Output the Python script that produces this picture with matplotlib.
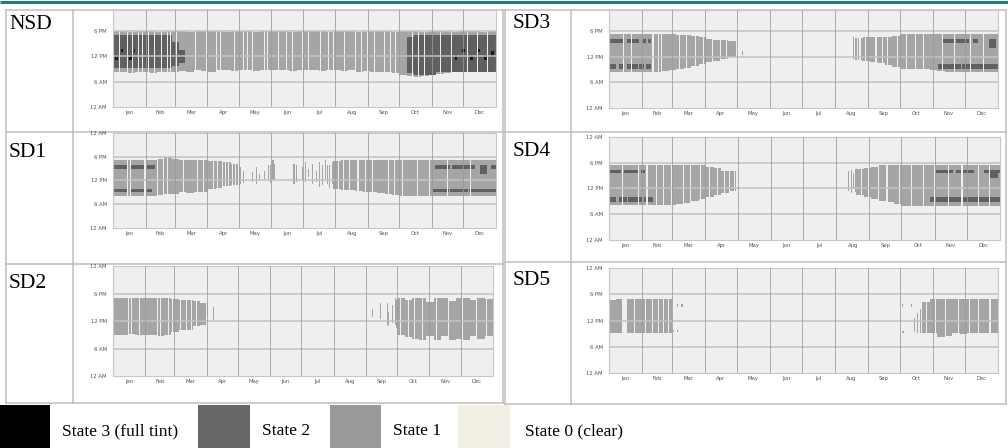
import numpy as np
import matplotlib
matplotlib.use('Agg')
import matplotlib.pyplot as plt
from matplotlib.colors import ListedColormap, BoundaryNorm
from matplotlib.patches import Rectangle

nan = np.nan

# ---------------- data ----------------
MONTHS = ['Jan', 'Feb', 'Mar', 'Apr', 'May', 'Jun', 'Jul', 'Aug', 'Sep', 'Oct', 'Nov', 'Dec']
MONTH_DAYS = [31, 28, 31, 30, 31, 30, 31, 31, 30, 31, 30, 31]
HOUR_TICKS = [0, 6, 12, 18, 24]
HOUR_LABELS = ['12 AM', '6 AM', '12 PM', '6 PM', '12 AM']
PANELS = ['NSD', 'SD1', 'SD2', 'SD3', 'SD4', 'SD5']
STATE_LABELS = ['State 3 (full tint)', 'State 2', 'State 1', 'State 0 (clear)']

# weekly envelope of tinted period (hour of day), NaN = no tint that week
NSD_LO = [8.3, 8.3, 8.2, 8.3, 8.3, 8.2, 8.3, 8.3, 8.4, 8.5, 8.4, 8.6, 8.5, 8.4, 8.6, 8.7, 8.5,
          8.6, 8.8, 8.5, 8.6, 8.7, 8.8, 8.6, 8.5, 8.7, 8.8, 8.6, 8.5, 8.7, 8.6, 8.5, 8.6, 8.4,
          8.5, 8.4, 8.3, 8.3, 8.2, 7.6, 7.3, 7.2, 7.4, 7.5, 7.8, 8.2, 8.3, 8.3, 8.3, 8.3, 8.3, 8.3]
NSD_HI = [18.0, 18.0, 17.9, 18.0, 18.0, 18.0, 17.9, 18.0, 18.0, 18.0, 17.9, 18.0, 18.0, 18.0,
          18.0, 17.9, 18.0, 18.0, 18.0, 17.9, 18.0, 18.0, 18.0, 18.0, 17.9, 18.0, 18.0, 18.0,
          18.0, 17.9, 18.0, 18.0, 18.0, 17.9, 18.0, 18.0, 18.0, 18.0, 17.9, 18.0, 18.0, 18.0,
          17.9, 18.0, 18.0, 18.0, 17.9, 18.0, 18.0, 18.0, 17.9, 18.0]
NSD_OFF = [6, 13, 18, 24, 28, 33, 39, 46, 51, 54, 60, 78, 89, 98, 102, 115, 124, 128, 132, 144,
           147, 157, 165, 171, 180, 186, 197, 205, 210, 220, 231, 236, 242, 249, 258, 264, 269,
           285, 291, 296, 312, 322, 337, 347, 356]
NSD_ST_DAY, NSD_ST_LO, NSD_ST_HI = [], [], []
NSD_S2 = [(0, 55, 9.2, 17.2), (56, 62, 9.8, 15.5), (63, 68, 10.5, 13.5),
          (280, 286, 8.0, 16.5), (287, 307, 7.5, 17.0), (308, 364, 8.3, 17.1)]
NSD_S3 = [(2, 4, 11.2, 12.3), (8, 9, 13.0, 13.7), (15, 17, 11.2, 12.3), (20, 20, 13.0, 13.7),
          (326, 327, 11.2, 12.3), (333, 334, 13.0, 13.7), (340, 342, 11.2, 12.3),
          (348, 349, 13.0, 13.7), (354, 355, 11.2, 12.3), (360, 362, 11.8, 13.4)]

SD1_LO = [8.0, 8.0, 8.1, 8.0, 8.1, 8.2, 8.3, 8.5, 8.6, 9.0, 8.9, 9.0, 9.2, 9.8, 10.2, 10.5, 10.8,
          nan, nan, nan, nan, nan, nan, nan, nan, nan, nan, nan, nan, nan,
          9.8, 9.6, 9.5, 9.4, 9.2, 9.0, 8.8, 8.6, 8.4, 8.2, 8.0, 8.0, 8.0, 8.0, 8.0, 8.0, 8.0,
          8.0, 8.0, 8.0, 8.0, 8.0]
SD1_HI = [17.1, 17.1, 17.1, 17.1, 17.1, 17.1, 17.4, 17.9, 17.4, 17.1, 17.1, 17.1, 17.1, 17.0,
          16.8, 16.6, 16.2,
          nan, nan, nan, nan, nan, nan, nan, nan, nan, nan, nan, nan, nan,
          16.8, 17.1, 17.1, 17.1, 17.1, 17.1, 17.1, 17.1, 17.1, 17.1, 17.1, 17.1, 17.1, 17.1,
          17.1, 17.1, 17.1, 17.1, 17.1, 17.1, 17.1, 17.1]
SD1_OFF = [13, 16, 30, 42, 48, 51, 67, 80, 86, 95, 99, 104, 107, 110, 113, 116, 214, 219, 225,
           233, 240, 247, 262, 268, 275, 290, 301, 318, 340]
SD1_ST_DAY = [120, 121, 124, 132, 136, 139, 144, 148, 150, 152, 153, 172, 174, 180, 183, 186,
              190, 193, 196, 199, 202, 204, 206, 209]
SD1_ST_LO = [10.5, 11.0, 11.4, 11.6, 11.2, 12.0, 12.0, 12.0, 11.3, 12.0, 12.3, 11.2, 11.6,
             12.0, 11.6, 12.8, 11.2, 11.6, 10.3, 10.8, 12.0, 11.0, 10.0, 11.0]
SD1_ST_HI = [15.8, 15.5, 14.5, 14.1, 15.4, 13.7, 14.5, 15.8, 16.0, 17.1, 16.2, 16.2, 15.8,
             15.4, 16.6, 15.0, 16.2, 14.5, 16.6, 15.8, 17.1, 16.0, 15.8, 16.6]
SD1_S2 = [(0, 12, 15.0, 15.8), (16, 29, 15.0, 15.8), (32, 39, 15.0, 15.8), (307, 320, 15.0, 15.8),
          (323, 344, 15.0, 15.8), (350, 354, 15.0, 15.8), (360, 364, 15.0, 15.8),
          (0, 12, 9.1, 9.9), (16, 36, 9.1, 9.9), (305, 319, 9.1, 9.9), (321, 337, 9.1, 9.9),
          (339, 364, 9.1, 9.9), (350, 355, 13.6, 15.8)]
SD1_S3 = []

SD2_LO = [9.0, 9.0, 9.1, 9.0, 9.0, 9.0, 8.6, 9.0, 9.5, 10.0, 10.0, 11.0, 11.2,
          nan, nan, nan, nan, nan, nan, nan, nan, nan, nan, nan, nan, nan, nan, nan, nan, nan,
          nan, nan, nan, nan, nan, nan, nan, nan, nan,
          9.0, 8.5, 8.0, 7.8, 8.6, 7.8, 8.9, 7.8, 8.2, 7.9, 8.8, 8.0, 8.9]
SD2_HI = [17.0, 17.0, 17.0, 17.0, 17.0, 17.0, 17.0, 17.0, 16.8, 16.6, 16.5, 16.3, 16.0,
          nan, nan, nan, nan, nan, nan, nan, nan, nan, nan, nan, nan, nan, nan, nan, nan, nan,
          nan, nan, nan, nan, nan, nan, nan, nan, nan,
          17.0, 16.6, 17.0, 17.0, 16.2, 17.0, 17.0, 16.3, 17.0, 17.0, 16.5, 17.0, 16.8]
SD2_OFF = [14, 17, 25, 42, 45, 53, 57, 64, 70, 75, 80, 89, 90, 276, 283, 289, 297, 310, 322,
           335, 349, 358]
SD2_ST_DAY = [90, 96, 249, 256, 263, 264, 268, 271, 272]
SD2_ST_LO = [12.9, 12.1, 12.9, 12.5, 11.1, 10.8, 11.5, 11.1, 10.5]
SD2_ST_HI = [16.1, 15.0, 14.7, 15.8, 15.8, 14.0, 15.5, 17.0, 16.6]
SD2_S2 = []
SD2_S3 = []

SD3_LO = [8.3, 8.4, 8.3, 8.4, 8.3, 8.5, 8.4, 8.6, 8.8, 9.0, 9.3, 9.8, 10.2, 10.8, 11.0, 11.3,
          11.8,
          nan, nan, nan, nan, nan, nan, nan, nan, nan, nan, nan, nan, nan, nan, nan, nan,
          11.2, 11.0, 10.8, 10.5, 10.0, 9.5, 9.2, 9.0, 9.0, 9.0, 8.9, 8.6, 8.5, 8.5, 8.5, 8.5,
          8.5, 8.5, 8.5]
SD3_HI = [17.4, 17.4, 17.4, 17.4, 17.4, 17.4, 17.4, 17.4, 17.4, 17.2, 17.0, 16.8, 16.5, 16.2,
          16.0, 15.8, 15.6,
          nan, nan, nan, nan, nan, nan, nan, nan, nan, nan, nan, nan, nan, nan, nan, nan,
          16.4, 16.5, 16.5, 16.5, 16.6, 16.8, 17.4, 17.4, 17.4, 17.4, 17.4, 17.4, 17.4, 17.4,
          17.4, 17.4, 17.4, 17.4, 17.4]
SD3_OFF = [13, 21, 40, 41, 46, 49, 66, 72, 81, 88, 97, 104, 110, 119, 233, 235, 240, 250, 256,
           261, 270, 279, 287, 295, 312, 324, 339, 351]
SD3_ST_DAY = [125, 229, 234, 237, 239, 241]
SD3_ST_LO = [12.5, 11.4, 11.2, 11.0, 11.4, 11.3]
SD3_ST_HI = [13.3, 16.5, 16.3, 16.0, 15.7, 16.0]
SD3_S2 = [(1, 12, 15.2, 16.1), (17, 27, 15.2, 16.1), (31, 34, 15.2, 16.1), (37, 38, 15.2, 16.1),
          (312, 323, 15.2, 16.1), (326, 337, 15.2, 16.1), (342, 345, 15.2, 16.1),
          (357, 362, 14.0, 16.1),
          (1, 6, 9.2, 10.1), (9, 13, 9.2, 10.1), (17, 26, 9.2, 10.1), (28, 32, 9.2, 10.1),
          (35, 38, 9.2, 10.1), (309, 329, 9.2, 10.1), (331, 338, 9.2, 10.1),
          (340, 364, 9.2, 10.1)]
SD3_S3 = []

SD4_LO = [8.2, 8.2, 8.2, 8.2, 8.2, 8.2, 8.2, 8.2, 8.2, 8.4, 8.6, 9.0, 9.5, 10.0, 10.5, 11.0,
          11.3,
          nan, nan, nan, nan, nan, nan, nan, nan, nan, nan, nan, nan, nan, nan, nan, nan,
          10.5, 10.0, 9.5, 9.0, 8.8, 8.5, 8.0, 8.0, 8.0, 8.0, 8.0, 8.0, 8.0, 8.0, 8.0, 8.0,
          8.0, 8.0, 8.0]
SD4_HI = [17.5, 17.5, 17.5, 17.5, 17.5, 17.5, 17.5, 17.5, 17.5, 17.5, 17.5, 17.5, 17.5, 17.0,
          16.6, 16.2, 16.0,
          nan, nan, nan, nan, nan, nan, nan, nan, nan, nan, nan, nan, nan, nan, nan, nan,
          16.5, 16.8, 17.0, 17.5, 17.5, 17.5, 17.5, 17.5, 17.5, 17.5, 17.5, 17.5, 17.5, 17.5,
          17.5, 17.5, 17.5, 17.5, 17.5]
SD4_OFF = [12, 27, 35, 44, 50, 58, 69, 76, 85, 93, 101, 107, 112, 117, 119, 235, 242, 251,
           259, 271, 282, 293, 303, 316, 329, 344, 355]
SD4_ST_DAY = [223, 226, 228, 230]
SD4_ST_LO = [11.5, 11.0, 11.8, 11.2]
SD4_ST_HI = [16.0, 16.3, 15.5, 16.5]
SD4_S2 = [(0, 10, 15.6, 16.3), (14, 26, 15.6, 16.3), (30, 33, 15.6, 16.3),
          (305, 320, 15.6, 16.3), (324, 340, 15.6, 16.3), (350, 364, 15.6, 16.3),
          (356, 362, 14.5, 16.3),
          (0, 6, 8.9, 10.0), (9, 16, 8.9, 10.0), (18, 30, 8.9, 10.0), (33, 40, 8.9, 10.0),
          (300, 364, 8.9, 10.0)]
SD4_S3 = []

SD5_LO = [9.1, 9.1, 9.1, 9.1, 9.1, 9.1, 9.2, 9.1, 9.1,
          nan, nan, nan, nan, nan, nan, nan, nan, nan, nan, nan, nan, nan, nan, nan, nan,
          nan, nan, nan, nan, nan, nan, nan, nan, nan, nan, nan, nan, nan, nan, nan, nan, nan,
          9.1, 9.1, 8.2, 8.5, 9.1, 8.8, 9.1, 9.1, 9.1, 9.1]
SD5_HI = [16.6, 17.0, 17.0, 17.0, 17.0, 17.0, 17.0, 17.0, 17.0,
          nan, nan, nan, nan, nan, nan, nan, nan, nan, nan, nan, nan, nan, nan, nan, nan,
          nan, nan, nan, nan, nan, nan, nan, nan, nan, nan, nan, nan, nan, nan, nan, nan, nan,
          16.2, 16.8, 17.0, 17.0, 17.0, 17.0, 17.0, 17.0, 17.0, 17.0]
SD5_OFF = [12, 13, 14, 15, 16, 23, 34, 40, 46, 51, 55, 59, 60, 61, 62, 297, 306, 315, 327,
           338, 346, 357]
SD5_ST_DAY = [60, 64, 64, 68, 275, 275, 276, 283, 286, 289, 292]
SD5_ST_LO = [9.3, 9.3, 15.1, 15.1, 15.1, 9.1, 9.1, 15.1, 9.4, 9.1, 9.1]
SD5_ST_HI = [9.8, 9.8, 15.6, 15.6, 15.6, 9.6, 9.6, 15.6, 12.5, 13.6, 14.7]
SD5_S2 = []
SD5_S3 = []

PANEL_DATA = {
    'NSD': (NSD_LO, NSD_HI, NSD_OFF, NSD_ST_DAY, NSD_ST_LO, NSD_ST_HI, NSD_S2, NSD_S3),
    'SD1': (SD1_LO, SD1_HI, SD1_OFF, SD1_ST_DAY, SD1_ST_LO, SD1_ST_HI, SD1_S2, SD1_S3),
    'SD2': (SD2_LO, SD2_HI, SD2_OFF, SD2_ST_DAY, SD2_ST_LO, SD2_ST_HI, SD2_S2, SD2_S3),
    'SD3': (SD3_LO, SD3_HI, SD3_OFF, SD3_ST_DAY, SD3_ST_LO, SD3_ST_HI, SD3_S2, SD3_S3),
    'SD4': (SD4_LO, SD4_HI, SD4_OFF, SD4_ST_DAY, SD4_ST_LO, SD4_ST_HI, SD4_S2, SD4_S3),
    'SD5': (SD5_LO, SD5_HI, SD5_OFF, SD5_ST_DAY, SD5_ST_LO, SD5_ST_HI, SD5_S2, SD5_S3),
}

# ---------------- style / layout ----------------
W, H = 1008, 448
C_S3, C_S2, C_S1, C_S0 = '#000000', '#666666', '#999999', '#f2f0e4'
CH_S3, CH_S2, CH_S1 = '#1a1a1a', '#606060', '#a5a5a5'
PLOT_BG = '#efefef'
TABLE = '#bdbdbd'
TEAL = '#1f7f78'

# pixel boxes (x0, y0, x1, y1) and visible top hour
AX_BOX = {
    'NSD': (113, 10, 496, 107, 23.0),
    'SD1': (113, 133, 496, 228, 24.0),
    'SD2': (113, 266, 493, 376, 24.0),
    'SD3': (609, 10, 998, 108, 22.9),
    'SD4': (609, 137, 1000, 240, 24.0),
    'SD5': (609, 268, 998, 373, 24.0),
}
LABEL_POS = {'NSD': (9, 29), 'SD1': (9, 157), 'SD2': (9, 288),
             'SD3': (513, 28), 'SD4': (513, 156), 'SD5': (513, 285)}

fig = plt.figure(figsize=(W / 100, H / 100), dpi=100)
bg = fig.add_axes([0, 0, 1, 1], zorder=0)
bg.set_xlim(0, W)
bg.set_ylim(H, 0)
bg.axis('off')

px = 0.72  # points per pixel
bg.plot([0, W], [2, 2], color=TEAL, lw=3 * px, solid_capstyle='butt')
# left table
for x in (6, 73, 503):
    bg.plot([x, x], [10, 403], color=TABLE, lw=1.5 * px)
for y in (10, 132, 264, 403):
    bg.plot([6, 503], [y, y], color=TABLE, lw=1.5 * px)
# right table
for x in (505, 571, 1006):
    bg.plot([x, x], [10, 404], color=TABLE, lw=1.5 * px)
for y in (10, 132, 262, 404):
    bg.plot([505, 1006], [y, y], color=TABLE, lw=1.5 * px)

for name, (lx, ly) in LABEL_POS.items():
    bg.text(lx, ly, name, fontsize=15.5, family='Liberation Serif', va='baseline',
            ha='left', color='black')

# legend
LEG_SQ = [(0, 50), (198, 250), (330, 381), (458, 510)]
LEG_TX = [62, 262, 393, 525]
for (x0, x1), tx, col, lab in zip(LEG_SQ, LEG_TX, [C_S3, C_S2, C_S1, C_S0], STATE_LABELS):
    bg.add_patch(Rectangle((x0, 405), x1 - x0, 43, facecolor=col, edgecolor='none'))
    bg.text(tx, 431, lab, fontsize=12.6, family='Liberation Serif', va='center', ha='left')

# ---------------- charts ----------------
SLOT = 1 / 6
slot_centers = np.arange(0, 24, SLOT) + SLOT / 2
y_edges = np.arange(0, 24 + SLOT / 2, SLOT)
x_edges = np.arange(0, 366)
month_starts = np.concatenate([[0], np.cumsum(MONTH_DAYS)])
month_mid = (month_starts[:-1] + month_starts[1:]) / 2

cmap = ListedColormap([CH_S1, CH_S2, CH_S3])
norm = BoundaryNorm([0.5, 1.5, 2.5, 3.5], 3)


def build(lo, hi, off, sd, sl, sh, s2, s3):
    grid = np.zeros((len(slot_centers), 365))
    offs = set(off)
    for d in range(365):
        w = min(d // 7, len(lo) - 1)
        if not np.isnan(lo[w]) and d not in offs:
            grid[(slot_centers >= lo[w]) & (slot_centers < hi[w]), d] = 1
    for d, a, b in zip(sd, sl, sh):
        grid[(slot_centers >= a) & (slot_centers < b), d] = 1
    for val, blocks in ((2, s2), (3, s3)):
        for d0, d1, a, b in blocks:
            for d in range(d0, d1 + 1):
                if d in offs:
                    continue
                grid[(slot_centers >= a) & (slot_centers < b), d] = val
    return np.ma.masked_equal(grid, 0)


for name in PANELS:
    x0, y0, x1, y1, ytop = AX_BOX[name]
    ax = fig.add_axes([x0 / W, 1 - y1 / H, (x1 - x0) / W, (y1 - y0) / H], zorder=2)
    ax.set_facecolor(PLOT_BG)
    grid = build(*PANEL_DATA[name])
    ax.pcolormesh(x_edges, y_edges, grid, cmap=cmap, norm=norm, shading='flat', zorder=1)
    ax.set_xlim(0, 365)
    ax.set_ylim(0, ytop)
    for hh in (6, 12, 18):
        ax.axhline(hh, color='#c2c2c2', lw=1.3, alpha=0.85, zorder=3)
    for ms in month_starts[1:-1]:
        ax.axvline(ms, color='#9a9a9a', lw=0.7, alpha=0.8, zorder=3)
    ax.set_xticks(month_mid)
    ax.set_xticklabels(MONTHS, fontsize=3.8, color='#555555')
    yt = [t for t in HOUR_TICKS if t <= ytop + 1e-6]
    ax.set_yticks(yt)
    ax.set_yticklabels([HOUR_LABELS[HOUR_TICKS.index(t)] for t in yt], fontsize=3.8,
                       color='#555555')
    ax.tick_params(axis='both', length=0)
    ax.tick_params(axis='x', pad=2.5)
    ax.tick_params(axis='y', pad=4.5)
    for sp in ax.spines.values():
        sp.set_color('#c8c8c8')
        sp.set_linewidth(0.8)

fig.savefig('out.png', dpi=100)
